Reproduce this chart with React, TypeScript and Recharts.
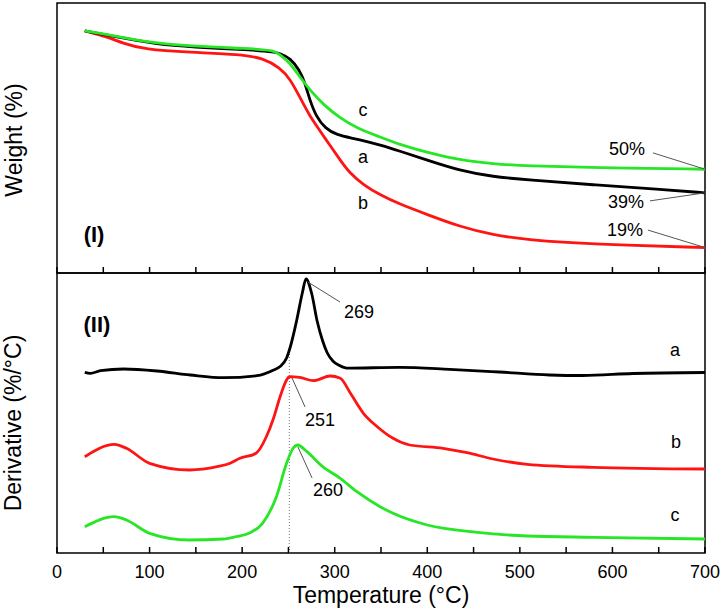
import React from 'react';
import {
  LineChart, Line, XAxis, YAxis, ReferenceArea, ReferenceLine, ReferenceDot, Customized,
} from 'recharts';

// ---------- data ----------
const xTicks = [0, 50, 100, 150, 200, 250, 300, 350, 400, 450, 500, 550, 600, 650, 700];
const xTickLabels = ['0', '100', '200', '300', '400', '500', '600', '700'];

// Panel (I): weight (%) vs temperature (°C)
const weightA = [
  [30, 100], [72, 97.3], [108, 95], [144, 94], [216, 92.8], [234, 92.1], [241, 91.6],
  [252, 89.8], [262, 85.4], [268, 80.5], [273, 74.3], [280, 68], [290, 63.6], [302, 61.2],
  [320, 59.9], [335, 58.7], [349, 57.5], [370, 55.2], [400, 51.8], [435, 47.9], [471, 45.6],
  [508, 44.4], [579, 42.6], [651, 40.9], [700, 39.6],
];
const weightB = [
  [30, 100], [54, 97.8], [72, 95.3], [94, 93.1], [144, 92], [198, 91.3], [223, 89.8],
  [241, 86.2], [252, 82], [262, 75.5], [273, 68.2], [284, 62.8], [295, 57.2], [306, 51.8],
  [316, 47], [331, 42.6], [349, 38.8], [370, 35.4], [400, 31.5], [435, 27], [471, 23.9],
  [508, 22], [579, 20.4], [700, 19.2],
];
const weightC = [
  [30, 100], [60, 98.4], [108, 94.8], [216, 93.3], [234, 92.7], [241, 91.2], [252, 87.9],
  [262, 83], [273, 78], [288, 72.4], [306, 67.4], [324, 63.7], [349, 60.4], [370, 57.6],
  [400, 54.7], [435, 51.8], [471, 50.4], [508, 49.6], [579, 49], [700, 48.4],
];

// Panel (II): derivative (offset, arbitrary units)
const derivA = [
  [30, 180.7], [36, 179.7], [47, 182.3], [72, 184], [108, 182], [144, 178], [180, 175.3],
  [216, 177.3], [234, 183], [241, 186.5], [248, 195], [252, 206], [259, 233], [265, 260],
  [269, 274], [275, 260], [281, 232], [287, 212], [292, 200], [298, 192], [305, 187.5],
  [313, 184.8], [370, 185.7], [424, 183.7], [478, 181], [532, 178], [568, 177.5],
  [622, 179.5], [700, 180.5],
];
const derivB = [
  [30, 96.3], [62, 108.7], [75, 104.7], [100, 89.7], [143, 83], [173, 86.3], [187, 89.7],
  [197, 94.5], [215, 99.7], [226, 116], [234, 135], [241, 156.3], [248, 173], [251, 176.3],
  [262, 175.7], [277, 172.3], [295, 177], [306, 174.7], [317, 159.7], [331, 139.7],
  [346, 126.3], [363, 114.7], [381, 108], [417, 104.7], [443, 100.3], [471, 94], [508, 88.7],
  [579, 85.7], [700, 84],
];
const derivC = [
  [30, 26.3], [62, 36.3], [75, 33], [100, 19.7], [143, 13], [180, 14], [194, 16.5],
  [208, 20], [222, 29.7], [237, 56.3], [248, 89.7], [255, 104.7], [260, 108], [270, 101.3],
  [287, 86.3], [306, 74.7], [324, 61.3], [349, 46.3], [363, 39.7], [400, 28], [454, 20.7],
  [508, 17], [579, 15.7], [700, 14],
];

const toPts = (arr: number[][]) => arr.map(([t, v]) => ({ t, v }));

const weightDomain = [9.7, 110.4];
const derivDomain = [0, 280];

const BLACK = '#000000';
const RED = '#ff1414';
const GREEN = '#26e626';
const LEADER = '#555555';
const FONT = '"Liberation Sans", Arial, sans-serif';

const txt = (value: string, size = 18, bold = false) => ({
  value, position: 'center' as const, fontSize: size, fill: '#000',
  fontWeight: bold ? 'bold' : 'normal', fontFamily: FONT,
});

const W = 723;

const WeightTitle = () => (
  <text x={22} y={140} transform="rotate(-90 22 140)" textAnchor="middle"
    fontSize={23} fontFamily={FONT} fill="#000">Weight (%)</text>
);
const DerivTitle = () => (
  <text x={21} y={423} transform="rotate(-90 21 423)" textAnchor="middle"
    fontSize={23} fontFamily={FONT} fill="#000">Derivative (%/°C)</text>
);
const TempTitle = () => (
  <text x={381} y={603} textAnchor="middle" fontSize={23} fontFamily={FONT} fill="#000">
    Temperature (°C)
  </text>
);

export default function App() {
  return (
    <div style={{ position: 'absolute', left: 0, top: 0, width: W, height: 609, background: '#fff', fontFamily: FONT }}>
      <div style={{ position: 'absolute', left: 0, top: 0 }}>
        <LineChart width={W} height={303} margin={{ top: 3, left: 57, right: 18, bottom: 0 }}>
          <XAxis dataKey="t" type="number" domain={[0, 700]} ticks={xTicks} allowDataOverflow
            tickFormatter={() => ''} tickSize={-6} tickMargin={10} height={30}
            axisLine={false} tickLine={{ stroke: '#000', strokeWidth: 1.5 }} />
          <YAxis type="number" domain={weightDomain} hide allowDataOverflow />
          <ReferenceArea x1={0} x2={700} y1={weightDomain[0]} y2={weightDomain[1]}
            fill="none" stroke="#000" strokeWidth={1.5} ifOverflow="visible" />
          <Line data={toPts(weightB)} dataKey="v" type="basis" stroke={RED} strokeWidth={2.8} dot={false} isAnimationActive={false} />
          <Line data={toPts(weightA)} dataKey="v" type="basis" stroke={BLACK} strokeWidth={2.8} dot={false} isAnimationActive={false} />
          <Line data={toPts(weightC)} dataKey="v" type="basis" stroke={GREEN} strokeWidth={2.8} dot={false} isAnimationActive={false} />
          <ReferenceLine segment={[{ x: 643.8, y: 54.5 }, { x: 700, y: 48.4 }]} stroke={LEADER} strokeWidth={1} />
          <ReferenceLine segment={[{ x: 640.6, y: 36.6 }, { x: 700, y: 39.6 }]} stroke={LEADER} strokeWidth={1} />
          <ReferenceLine segment={[{ x: 638.4, y: 25.7 }, { x: 700, y: 19.2 }]} stroke={LEADER} strokeWidth={1} />
          <ReferenceDot x={615.8} y={56} r={0} fill="none" stroke="none" label={txt('50%')} />
          <ReferenceDot x={614.7} y={36.2} r={0} fill="none" stroke="none" label={txt('39%')} />
          <ReferenceDot x={613.6} y={25.7} r={0} fill="none" stroke="none" label={txt('19%')} />
          <ReferenceDot x={330.6} y={70.5} r={0} fill="none" stroke="none" label={txt('c')} />
          <ReferenceDot x={330.6} y={53} r={0} fill="none" stroke="none" label={txt('a')} />
          <ReferenceDot x={330.6} y={35.8} r={0} fill="none" stroke="none" label={txt('b')} />
          <ReferenceDot x={40} y={24.3} r={0} fill="none" stroke="none" label={txt('(I)', 22, true)} />
          <Customized component={WeightTitle} />
        </LineChart>
      </div>
      <div style={{ position: 'absolute', left: 0, top: 0 }}>
        <LineChart width={W} height={609} margin={{ top: 273, left: 57, right: 18, bottom: 26 }}>
          <XAxis dataKey="t" type="number" domain={[0, 700]} ticks={xTicks} allowDataOverflow
            tickFormatter={(v: number) => (xTickLabels.includes(String(v)) ? String(v) : '')}
            tickSize={-6} tickMargin={18} height={30}
            tick={{ fill: '#000', fontSize: 18, fontFamily: FONT }}
            axisLine={false} tickLine={{ stroke: '#000', strokeWidth: 1.5 }} />
          <YAxis type="number" domain={derivDomain} hide allowDataOverflow />
          <ReferenceArea x1={0} x2={700} y1={derivDomain[0]} y2={derivDomain[1]}
            fill="none" stroke="#000" strokeWidth={1.5} ifOverflow="visible" />
          <ReferenceLine segment={[{ x: 251, y: 0 }, { x: 251, y: 205 }]} stroke="#777" strokeWidth={1} strokeDasharray="1 2" />
          <Line data={toPts(derivA)} dataKey="v" type="monotone" stroke={BLACK} strokeWidth={2.8} dot={false} isAnimationActive={false} />
          <Line data={toPts(derivB)} dataKey="v" type="monotone" stroke={RED} strokeWidth={2.8} dot={false} isAnimationActive={false} />
          <Line data={toPts(derivC)} dataKey="v" type="monotone" stroke={GREEN} strokeWidth={2.8} dot={false} isAnimationActive={false} />
          <ReferenceLine segment={[{ x: 271, y: 271 }, { x: 305.7, y: 251 }]} stroke={LEADER} strokeWidth={1} />
          <ReferenceLine segment={[{ x: 253.9, y: 175 }, { x: 268, y: 146 }]} stroke={LEADER} strokeWidth={1} />
          <ReferenceLine segment={[{ x: 260.3, y: 106 }, { x: 275.5, y: 75 }]} stroke={LEADER} strokeWidth={1} />
          <ReferenceDot x={326.2} y={241} r={0} fill="none" stroke="none" label={txt('269')} />
          <ReferenceDot x={284} y={133} r={0} fill="none" stroke="none" label={txt('251')} />
          <ReferenceDot x={292.7} y={63} r={0} fill="none" stroke="none" label={txt('260')} />
          <ReferenceDot x={667.6} y={203} r={0} fill="none" stroke="none" label={txt('a')} />
          <ReferenceDot x={668.7} y={111} r={0} fill="none" stroke="none" label={txt('b')} />
          <ReferenceDot x={667.6} y={38} r={0} fill="none" stroke="none" label={txt('c')} />
          <ReferenceDot x={43.2} y={229} r={0} fill="none" stroke="none" label={txt('(II)', 22, true)} />
          <Customized component={DerivTitle} />
          <Customized component={TempTitle} />
        </LineChart>
      </div>
    </div>
  );
}
